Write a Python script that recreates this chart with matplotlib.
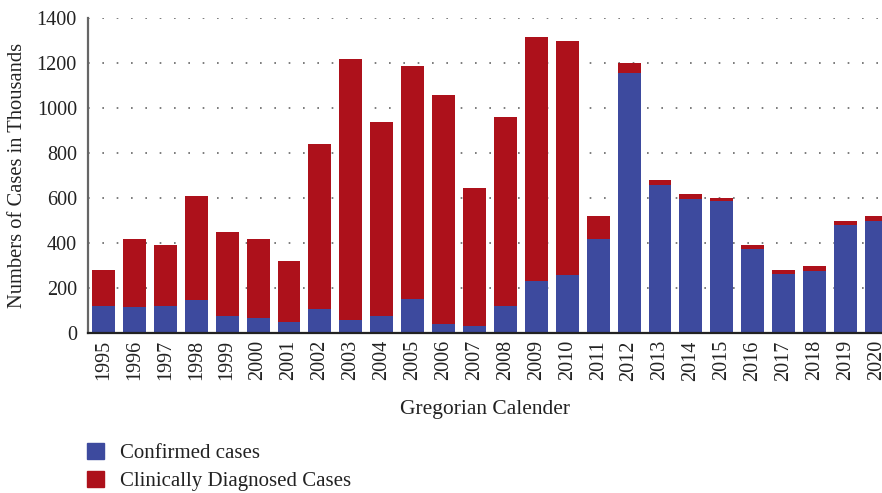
"""Stacked bars of confirmed and clinically diagnosed cases per year."""
import matplotlib
matplotlib.use("Agg")
import matplotlib.pyplot as plt
from matplotlib.patches import Patch
import numpy as np

years = [str(y) for y in range(1995, 2021)]
confirmed = [120, 115, 120, 147, 75, 67, 49, 107, 58, 75, 151, 40, 31,
             120, 231, 258, 417, 1157, 659, 597, 588, 375, 264, 277, 481, 500]
totals = [281, 419, 392, 610, 450, 419, 320, 841, 1219, 939, 1188, 1059, 645,
          961, 1317, 1299, 520, 1201, 681, 619, 601, 392, 281, 299, 500, 521]
clinical = [t - c for t, c in zip(totals, confirmed)]

BLUE = "#3d4a9e"
RED = "#ad111b"


def main():
    plt.rcParams["font.family"] = ["Liberation Serif", "DejaVu Serif"]
    plt.rcParams["font.size"] = 15

    fig = plt.figure(figsize=(8.82, 4.93), dpi=100)
    ax = fig.add_axes([0.0998, 0.324, 0.9002, 0.6395])

    x = np.arange(len(years))
    ax.bar(x, confirmed, width=0.74, color=BLUE, zorder=2)
    ax.bar(x, clinical, width=0.74, bottom=confirmed, color=RED, zorder=2)

    ax.set_xlim(-0.5, 25.18)
    ax.set_ylim(0, 1400)
    ax.set_yticks(range(0, 1401, 200))
    ax.set_xticks(x)
    ax.set_xticklabels(years, rotation=90)
    ax.tick_params(length=0, colors="#222222", labelsize=14.5)
    ax.tick_params(axis="y", pad=8)
    ax.tick_params(axis="x", pad=5)

    ax.yaxis.grid(True, color="#666666", linestyle=(0, (1, 7.6)),
                  linewidth=1.2, zorder=0)
    ax.set_axisbelow(True)

    for side in ("top", "right"):
        ax.spines[side].set_visible(False)
    ax.spines["left"].set_color("#666666")
    ax.spines["left"].set_linewidth(1.6)
    ax.spines["bottom"].set_color("#222222")
    ax.spines["bottom"].set_linewidth(1.6)

    ax.set_ylabel("Numbers of Cases in Thousands", fontsize=14.8,
                  color="#222222", labelpad=7)
    ax.set_xlabel("Gregorian Calender", fontsize=15.5, color="#222222",
                  labelpad=14)

    handles = [Patch(color=BLUE, label="Confirmed cases"),
               Patch(color=RED, label="Clinically Diagnosed Cases")]
    fig.legend(handles=handles, loc="upper left",
               bbox_to_anchor=(0.099, 0.101), frameon=False,
               handlelength=0.8, handleheight=0.8, handletextpad=0.75,
               labelspacing=0.35, fontsize=15, labelcolor="#222222",
               borderaxespad=0, borderpad=0)

    fig.savefig("out.png", dpi=100)


if __name__ == "__main__":
    main()
